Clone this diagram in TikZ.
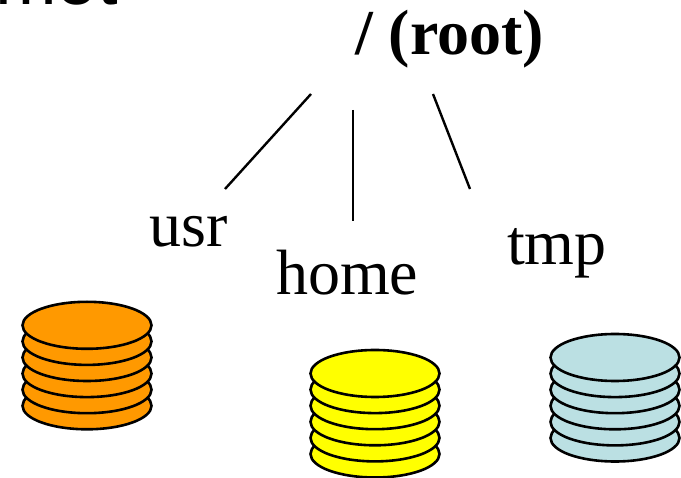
\documentclass[tikz,border=0pt]{standalone}
\usepackage{fontspec}
\setmainfont{Liberation Serif}
\newfontfamily\arialfont{Liberation Sans}
\definecolor{diskorange}{HTML}{FF9900}
\definecolor{diskyellow}{HTML}{FFFF00}
\definecolor{diskblue}{HTML}{BBE0E3}
\tikzset{
  disk/.style={draw=black,line width=2.6pt,fill=#1},
  lbl/.style={font=\fontsize{64}{64}\selectfont,inner sep=0pt,anchor=base west},
  treeline/.style={draw=black,line width=2.4pt},
}
\newcommand{\diskstack}[3]{%
  \foreach \k in {5,4,3,2,1,0}{
    \filldraw[disk=#3] (#1,#2+16.1*\k) ellipse [x radius=64.5,y radius=23.5];
  }%
}
\begin{document}
\begin{tikzpicture}[x=1pt,y=-1pt]
\useasboundingbox (0,0) rectangle (681,478);
\clip (0,0) rectangle (681,478);
\node[inner sep=0pt,anchor=base west,font=\arialfont\fontsize{74}{74}\selectfont] (cut) at (-5,5) {mot};
\node[lbl,font=\fontsize{64}{64}\selectfont\bfseries] (root) at (355,55) {/ (root)};
\node[lbl] (usr) at (149,247) {usr};
\node[lbl] (home) at (276,295) {home};
\node[lbl] (tmp) at (507,265) {tmp};
\coordinate (r1) at (311,94);
\coordinate (r2) at (353,110);
\coordinate (r3) at (433,94);
\coordinate (e1) at (225,189);
\coordinate (e2) at (353,221);
\coordinate (e3) at (470,189);
\draw[treeline] (r1) -- (e1);
\draw[treeline] (r2) -- (e2);
\draw[treeline] (r3) -- (e3);
\diskstack{87}{325.3}{diskorange}
\diskstack{375}{373.5}{diskyellow}
\diskstack{615}{357.5}{diskblue}
\end{tikzpicture}
\end{document}
